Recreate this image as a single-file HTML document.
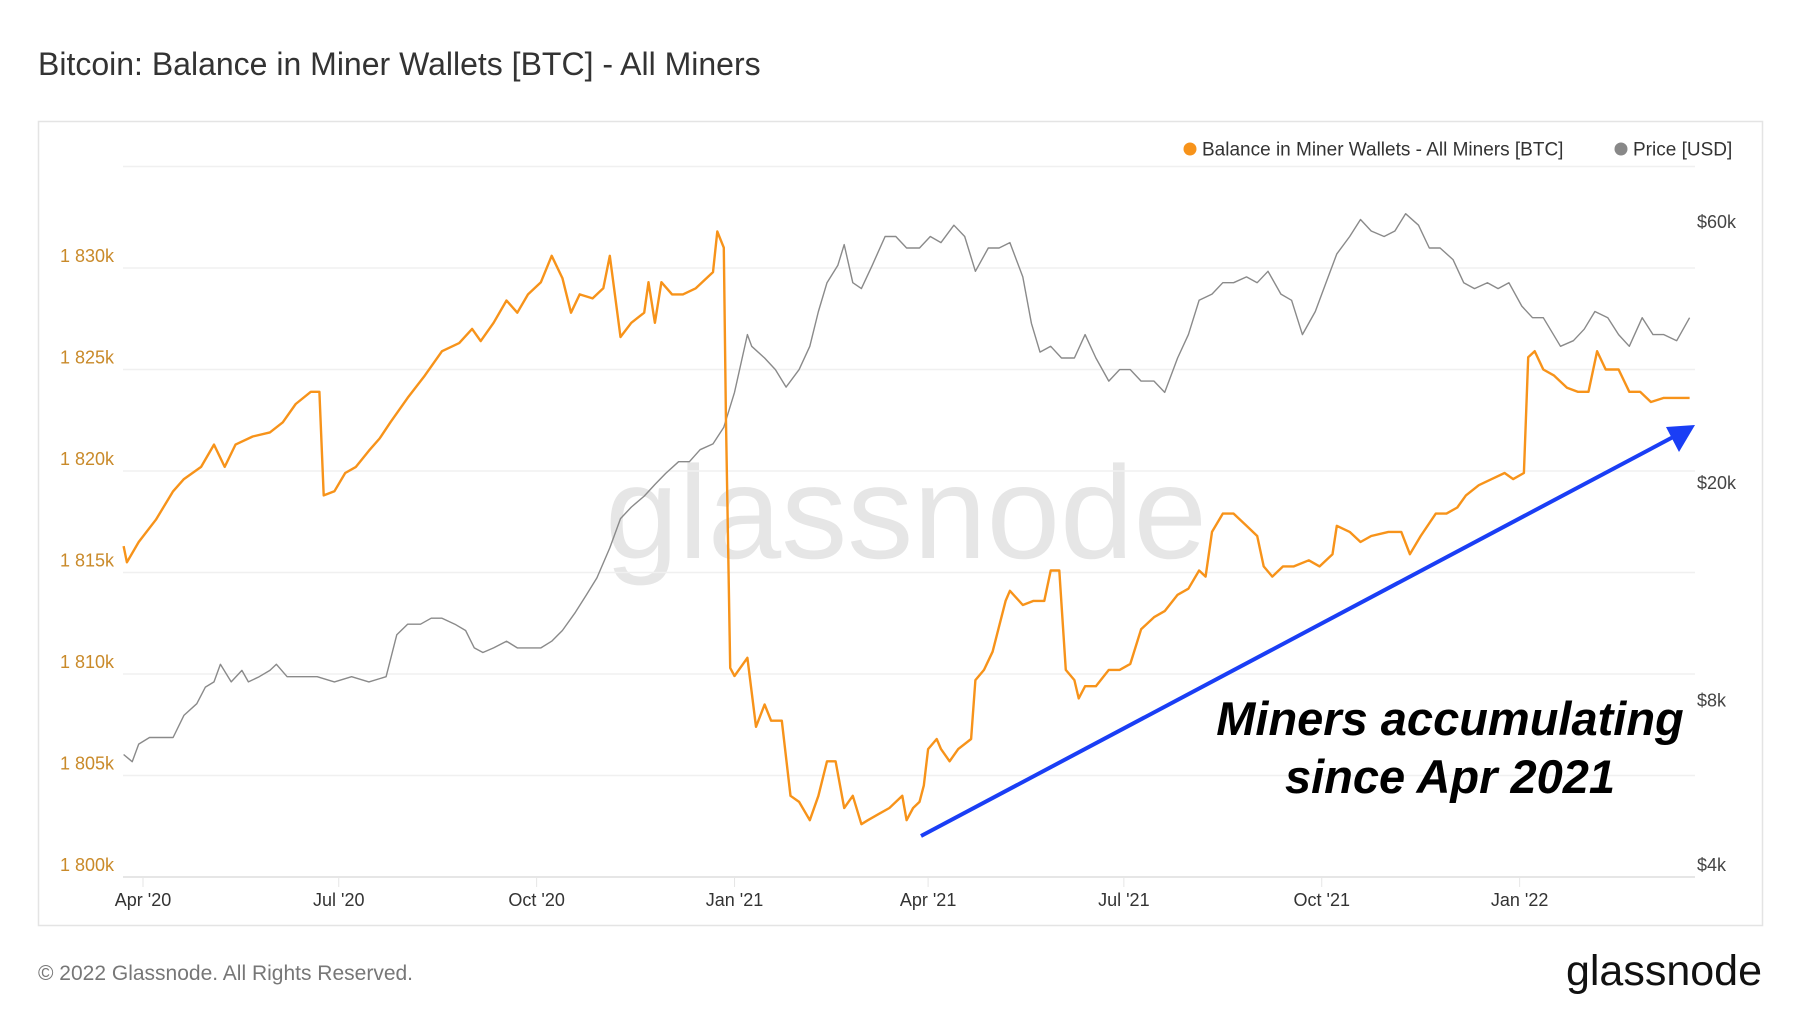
<!DOCTYPE html>
<html><head><meta charset="utf-8"><style>
html,body{margin:0;padding:0;background:#fff;}
svg{display:block;font-family:"Liberation Sans",sans-serif;}
</style></head><body>
<svg id="chart" width="1800" height="1013" viewBox="0 0 1800 1013">
<text x="38" y="75" font-size="32" fill="#333">Bitcoin: Balance in Miner Wallets [BTC] - All Miners</text>
<rect x="38.5" y="121.5" width="1724" height="804" fill="none" stroke="#e4e4e4" stroke-width="1.5"/>
<text x="906" y="558" font-size="132" fill="#e6e6e6" text-anchor="middle">glassnode</text>
<g id="grid"></g>
<g id="axes"></g>
<g id="series"></g>
<g>
<circle cx="1190" cy="149" r="6.5" fill="#f7931a"/>
<text x="1202" y="155.5" font-size="19" fill="#333">Balance in Miner Wallets - All Miners [BTC]</text>
<circle cx="1621" cy="149" r="6.5" fill="#888"/>
<text x="1633" y="155.5" font-size="19" fill="#333">Price [USD]</text>
</g>
<g>
<line x1="921" y1="836" x2="1675" y2="436" stroke="#1a3ef5" stroke-width="4"/>
<polygon points="1695,425 1666,427 1679,452" fill="#1a3ef5"/>
<text x="1450" y="735" font-size="47" font-weight="bold" font-style="italic" fill="#000" text-anchor="middle">Miners accumulating</text>
<text x="1450" y="793" font-size="47" font-weight="bold" font-style="italic" fill="#000" text-anchor="middle">since Apr 2021</text>
</g>
<text x="38" y="980" font-size="21" fill="#777">© 2022 Glassnode. All Rights Reserved.</text>
<text x="1762" y="985" font-size="43" fill="#111" text-anchor="end">glassnode</text>
</svg>
<script>
// days since 2020-04-01
const balanceDays=[-9,-7.5,-2,6,14,19,27,33,38,43,51,59,65,71,78,82,84,89,94,99,105,110,115,123,131,139,147,153,157,163,169,174,179,185,190,195,199,203,209,214,217,222,227,233,235,238,241,246,251,257,262,265,267,270,271,273,275,281,285,289,292,297,301,305,310,314,318,322,326,330,334,337,342,347,353,355,358,361,363,365,369,371,375,379,385,387,391,395,401,403,409,414,419,422,426,429,433,435,438,443,449,454,459,464,470,475,481,486,491,494,497,502,507,513,518,521,525,530,535,542,547,553,555,561,566,571,579,585,589,594,601,606,611,615,621,627,633,637,642,644,647,651,656,662,667,672,676,680,686,691,696,701,707,712,719];
// balance in thousands BTC
const balanceValues=[1816.3,1815.5,1816.5,1817.6,1819.0,1819.6,1820.2,1821.3,1820.2,1821.3,1821.7,1821.9,1822.4,1823.3,1823.9,1823.9,1818.8,1819.0,1819.9,1820.2,1821.0,1821.6,1822.4,1823.6,1824.7,1825.9,1826.3,1827.0,1826.4,1827.3,1828.4,1827.8,1828.7,1829.3,1830.6,1829.5,1827.8,1828.7,1828.5,1829.0,1830.6,1826.6,1827.3,1827.8,1829.3,1827.3,1829.3,1828.7,1828.7,1829.0,1829.5,1829.8,1831.8,1831.0,1822.7,1810.3,1809.9,1810.8,1807.4,1808.5,1807.7,1807.7,1804.0,1803.7,1802.8,1804.0,1805.7,1805.7,1803.4,1804.0,1802.6,1802.8,1803.1,1803.4,1804.0,1802.8,1803.4,1803.7,1804.5,1806.3,1806.8,1806.3,1805.7,1806.3,1806.8,1809.7,1810.2,1811.1,1813.6,1814.1,1813.4,1813.6,1813.6,1815.1,1815.1,1810.2,1809.7,1808.8,1809.4,1809.4,1810.2,1810.2,1810.5,1812.2,1812.8,1813.1,1813.9,1814.2,1815.1,1814.8,1817.0,1817.9,1817.9,1817.3,1816.8,1815.3,1814.8,1815.3,1815.3,1815.6,1815.3,1815.9,1817.3,1817.0,1816.5,1816.8,1817.0,1817.0,1815.9,1816.8,1817.9,1817.9,1818.2,1818.8,1819.3,1819.6,1819.9,1819.6,1819.9,1825.6,1825.9,1825.0,1824.7,1824.1,1823.9,1823.9,1825.9,1825.0,1825.0,1823.9,1823.9,1823.4,1823.6,1823.6,1823.6];
const priceDays=[-9,-5,-2,3,9,14,19,25,29,33,36,41,46,49,54,59,62,67,73,81,89,97,105,113,118,123,129,134,139,145,150,154,158,163,169,174,179,185,190,195,201,206,211,217,222,227,233,238,243,249,254,259,265,270,275,281,283,289,294,299,305,310,314,318,323,326,330,334,339,345,350,355,361,366,371,377,382,387,393,398,403,409,413,417,422,427,433,438,443,449,454,459,464,470,475,481,486,491,497,502,507,513,518,523,529,534,539,545,550,555,561,566,571,577,582,587,593,598,603,609,614,619,625,630,635,641,646,651,659,665,670,675,681,686,691,697,702,707,713,719];
// price in thousands USD
const priceValues=[6.7,6.5,7.0,7.2,7.2,7.2,7.9,8.3,8.9,9.1,9.8,9.1,9.55,9.1,9.3,9.55,9.8,9.3,9.3,9.3,9.1,9.3,9.1,9.3,11.1,11.6,11.6,11.9,11.9,11.6,11.3,10.5,10.3,10.5,10.8,10.5,10.5,10.5,10.8,11.3,12.2,13.1,14.1,16.0,18.1,19.0,19.9,20.9,21.9,23.0,23.0,24.2,24.8,26.6,30.8,39.3,37.4,35.6,33.9,31.5,33.9,37.4,43.3,48.9,52.6,57.4,48.9,47.7,52.6,59.4,59.4,56.6,56.6,59.4,57.9,62.3,59.4,51.3,56.6,56.6,57.9,50.1,41.2,36.5,37.4,35.6,35.6,39.3,35.6,32.3,33.9,33.9,32.3,32.3,30.8,35.6,39.3,45.4,46.6,48.9,48.9,50.1,48.9,51.3,46.6,45.4,39.3,43.3,48.9,55.2,59.4,63.8,60.8,59.4,60.8,65.4,62.3,56.6,56.6,53.9,48.9,47.7,48.9,47.7,48.9,44.3,42.2,42.2,37.4,38.3,40.2,43.3,42.2,39.3,37.4,42.2,39.3,39.3,38.3,42.2];
const leftTicks=[1800,1805,1810,1815,1820,1825,1830,1835];
const leftTickLabels=["1 800k","1 805k","1 810k","1 815k","1 820k","1 825k","1 830k",""];
const rightTicks=[4,8,20,60];
const rightTickLabels=["$4k","$8k","$20k","$60k"];
const xTickDays=[0,91,183,275,365,456,548,640];
const xTickLabels=["Apr '20","Jul '20","Oct '20","Jan '21","Apr '21","Jul '21","Oct '21","Jan '22"];

const NS="http://www.w3.org/2000/svg";
const X0=143,PXD=2.151,Y0=877;
function xS(d){return X0+d*PXD;}
function yL(k){return Y0-(k-1800)*20.3;}
function yR(p){return Y0-Math.log(p/4)*237.4;}
function mk(tag,attrs,parent){const e=document.createElementNS(NS,tag);for(const k in attrs)e.setAttribute(k,attrs[k]);parent.appendChild(e);return e;}
const grid=document.getElementById('grid'),axes=document.getElementById('axes'),series=document.getElementById('series');
leftTicks.forEach((t,i)=>{
  const y=yL(t);
  const l=mk('line',{x1:123,x2:1695,y1:y,y2:y,stroke:i===0?'#dddddd':'#f0f0f0','stroke-width':1.5},grid);
  
  
  if(leftTickLabels[i]){
    const tx=mk('text',{x:60,y:y-6,'font-size':18,fill:'#c98a2a'},axes);
    tx.textContent=leftTickLabels[i];
    
    
  }
});
rightTicks.forEach((t,i)=>{
  const tx=mk('text',{x:1697,y:yR(t)-6,'font-size':18,fill:'#444'},axes);
  tx.textContent=rightTickLabels[i];
  
  
});
xTickDays.forEach((d,i)=>{
  const x=xS(d);
  const tk=mk('line',{x1:x,x2:x,y1:Y0,y2:Y0+10,stroke:'#e6e6e6','stroke-width':1},axes);
  
  
  const tx=mk('text',{x:x,y:906,'font-size':18,fill:'#333','text-anchor':'middle'},axes);
  tx.textContent=xTickLabels[i];
  
  
});
const pp=mk('path',{d:priceDays.map((d,i)=>(i?'L':'M')+xS(d).toFixed(1)+','+yR(priceValues[i]).toFixed(1)).join(''),fill:'none',stroke:'#8a8a8a','stroke-width':1.4,'stroke-linejoin':'round'},series);


const bp=mk('path',{d:balanceDays.map((d,i)=>(i?'L':'M')+xS(d).toFixed(1)+','+yL(balanceValues[i]).toFixed(1)).join(''),fill:'none',stroke:'#f7931a','stroke-width':2.4,'stroke-linejoin':'round'},series);


</script>
</body></html>
